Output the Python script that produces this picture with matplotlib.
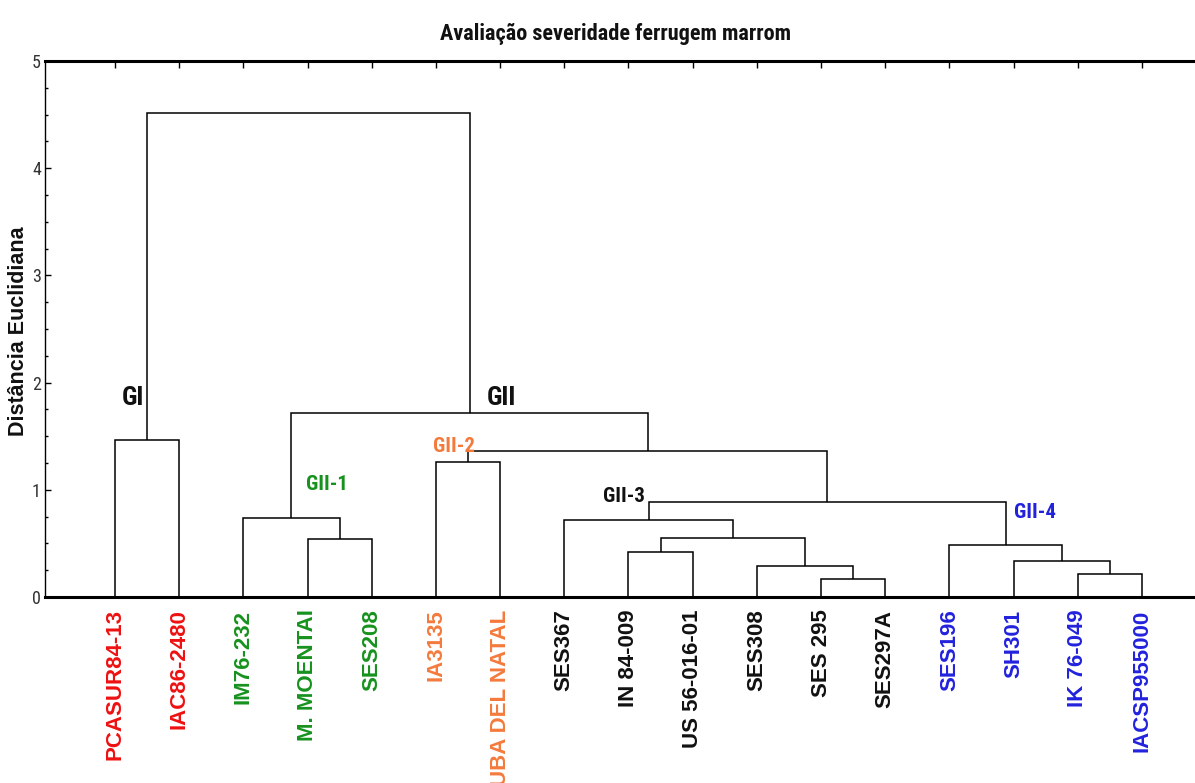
import matplotlib
matplotlib.use("Agg")
import matplotlib.pyplot as plt
from matplotlib import font_manager
from matplotlib.ticker import MultipleLocator

# ---------------- data ----------------
leaves = ["PCASUR84-13", "IAC86-2480", "IM76-232", "M. MOENTAI", "SES208",
          "IA3135", "CUBA DEL NATAL", "SES367", "IN 84-009", "US 56-016-01",
          "SES308", "SES 295", "SES297A", "SES196", "SH301", "IK 76-049",
          "IACSP955000"]
leaf_groups = ["GI", "GI", "GII-1", "GII-1", "GII-1", "GII-2", "GII-2",
               "GII-3", "GII-3", "GII-3", "GII-3", "GII-3", "GII-3",
               "GII-4", "GII-4", "GII-4", "GII-4"]
group_colors = {"GI": "#ee1111", "GII-1": "#17921e", "GII-2": "#f47a3c",
                "GII-3": "#111111", "GII-4": "#2222dd"}

# merges: node ids 0..16 are leaves, 17.. are merged clusters (in order)
merge_left = [0, 3, 2, 5, 11, 10, 8, 23, 7, 15, 14, 13, 25, 20, 19, 17]
merge_right = [1, 4, 18, 6, 12, 21, 9, 22, 24, 16, 26, 27, 28, 29, 30, 31]
merge_height = [1.465, 0.545, 0.74, 1.258, 0.171, 0.292, 0.417, 0.547,
                0.716, 0.212, 0.336, 0.482, 0.886, 1.36, 1.716, 4.512]

group_labels = ["GI", "GII", "GII-1", "GII-2", "GII-3", "GII-4"]
group_label_x = [0.45, 5.79, 2.975, 4.95, 7.61, 14.0]
group_label_y = [1.79, 1.79, 1.0, 1.35, 0.886, 0.737]
group_label_col = ["#111111", "#111111", "#17921e", "#f47a3c", "#111111", "#2222dd"]
group_label_ha = ["right", "left", "left", "left", "left", "left"]
group_label_size = [19, 19, 15, 15, 15, 15]

title = "Avaliação severidade ferrugem marrom"
ylabel = "Distância Euclidiana"

# ---------------- fonts ----------------
available = {f.name for f in font_manager.fontManager.ttflist}
narrow = "Liberation Sans"
for cand in ["Liberation Sans Narrow", "DejaVu Sans Condensed", "Roboto Condensed",
             "Open Sans Condensed", "Arial Narrow"]:
    if cand in available:
        narrow = cand
        break
bold_font = "Liberation Sans" if "Liberation Sans" in available else "DejaVu Sans"

# ---------------- figure ----------------
W, H = 1195, 783
fig = plt.figure(figsize=(W / 100, H / 100), dpi=100)
fig.patch.set_facecolor("white")

left_px, right_px, top_px, bottom_px = 45, 1212, 61, 597
ax = fig.add_axes([left_px / W, 1 - bottom_px / H,
                   (right_px - left_px) / W, (bottom_px - top_px) / H])

# compute node positions and draw dendrogram links
xpos = {i: float(i) for i in range(len(leaves))}
ypos = {i: 0.0 for i in range(len(leaves))}
for k, (a, b, h) in enumerate(zip(merge_left, merge_right, merge_height)):
    node = len(leaves) + k
    xa, xb = xpos[a], xpos[b]
    ax.plot([xa, xa, xb, xb], [ypos[a], h, h, ypos[b]], color="black",
            lw=1.1, solid_capstyle="butt", solid_joinstyle="miter")
    xpos[node] = (xa + xb) / 2
    ypos[node] = h

ax.set_xlim(-1.09, 17.09)
ax.set_ylim(0, 5)

# spines
ax.spines["top"].set_linewidth(2.2)
ax.spines["bottom"].set_linewidth(2.2)
ax.spines["left"].set_linewidth(1.0)
ax.spines["right"].set_linewidth(2.2)

# x ticks / labels
ax.set_xticks(range(len(leaves)))
ax.set_xticklabels(leaves, rotation=90, fontsize=16, fontweight="bold",
                   family=bold_font, va="top", ha="center")
for lbl, g in zip(ax.get_xticklabels(), leaf_groups):
    lbl.set_color(group_colors[g])
ax.tick_params(axis="x", which="both", bottom=False, top=True, direction="in",
               length=5, width=1.0, pad=9.0)

# y ticks
ax.yaxis.set_major_locator(MultipleLocator(1))
ax.yaxis.set_minor_locator(MultipleLocator(0.25))
ax.tick_params(axis="y", which="major", direction="in", length=4, width=1.0,
               pad=3, labelsize=13, labelcolor="#333333")
ax.tick_params(axis="y", which="minor", direction="in", length=2.5, width=1.0)
for lbl in ax.get_yticklabels():
    lbl.set_family(narrow)

# group labels
for t, x, y, c, ha, s in zip(group_labels, group_label_x, group_label_y,
                             group_label_col, group_label_ha, group_label_size):
    ax.text(x, y, t, color=c, ha=ha, va="baseline", fontsize=s,
            fontweight="bold", family=narrow)

# title and y label
fig.text(615 / W, 1 - 40 / H, title, ha="center", va="baseline",
         fontsize=16, fontweight="bold", family=narrow, color="#111111")
fig.text(19 / W, 1 - 331 / H, ylabel, ha="center", va="center", rotation=90,
         fontsize=15.5, fontweight="bold", family=bold_font, color="#111111")

fig.savefig("out.png", dpi=100, facecolor="white")
